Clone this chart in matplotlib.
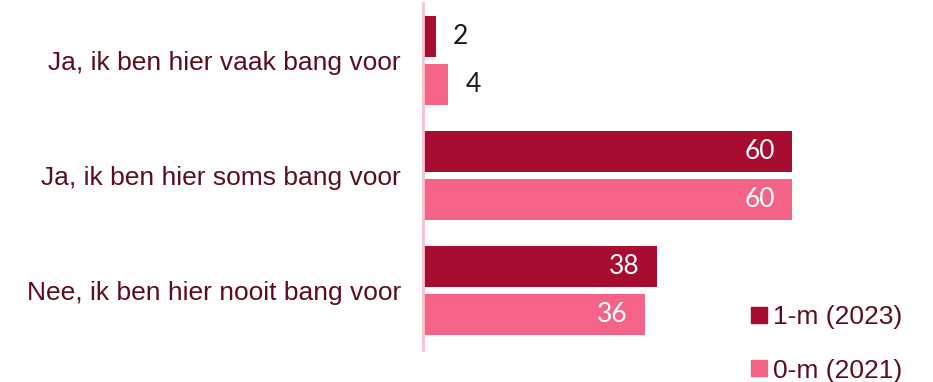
import matplotlib
matplotlib.use("Agg")
import matplotlib.pyplot as plt
from matplotlib.lines import Line2D
import numpy as np

categories = [
    "Ja, ik ben hier vaak bang voor",
    "Ja, ik ben hier soms bang voor",
    "Nee, ik ben hier nooit bang voor",
]
series_names = ["1-m (2023)", "0-m (2021)"]
values_2023 = [2, 60, 38]
values_2021 = [4, 60, 36]

dark = "#A80C30"
pink = "#F56487"
text_col = "#5C0E1E"
axis_col = "#F8C3CF"

W, H = 933, 382
fig = plt.figure(figsize=(W / 100, H / 100), dpi=100)

# axes placed in pixel terms: zero line at x=423, from y=3 to y=350
left_px, right_px = 423, 923
top_px, bottom_px = 3, 350
ax = fig.add_axes([left_px / W, (H - bottom_px) / H,
                   (right_px - left_px) / W, (bottom_px - top_px) / H])

px_per_unit = 6.13
ax.set_xlim(0, (right_px - left_px) / px_per_unit)
# groups spaced 115 px apart; first group centre at y=61
ax.set_ylim(2 + (bottom_px - 290.5) / 115, -(61 - top_px) / 115)

y = np.arange(len(categories))
h = 41 / 115
off = 24 / 115
ax.barh(y - off, values_2023, height=h, color=dark, left=0.15)
ax.barh(y + off, values_2021, height=h, color=pink, left=0.15)

pad = 17 / px_per_unit
val_font = dict(family="Lato", fontsize=19)
for vals, dy in ((values_2023, -off), (values_2021, off)):
    for yi, v in zip(y, vals):
        if v >= 10:
            ax.text(v - pad + 0.15, yi + dy, str(v), ha="right", va="center",
                    color="white", **val_font)
        else:
            ax.text(v + pad + 0.15, yi + dy, str(v), ha="left", va="center",
                    color="#1a1a1a", **val_font)

ax.set_yticks(y)
ax.set_yticklabels(categories, fontsize=19, color=text_col,
                   family="Liberation Sans")
ax.tick_params(axis="y", length=0, pad=16)
ax.set_xticks([])
for s in ("top", "right", "bottom"):
    ax.spines[s].set_visible(False)
ax.spines["left"].set_color(axis_col)
ax.spines["left"].set_linewidth(2)

handles = [Line2D([], [], marker="s", linestyle="none", markersize=11,
                  markerfacecolor=c, markeredgecolor=c) for c in (dark, pink)]
fig.legend(handles, series_names, loc="upper left",
           bbox_to_anchor=(743 / W, 1 - 305 / H), frameon=False,
           prop=dict(family="Liberation Sans", size=19),
           labelcolor=text_col, handletextpad=-0.05, handlelength=1.2,
           labelspacing=1.12, borderaxespad=0, borderpad=0)

fig.savefig("out.png", dpi=100, facecolor="white")
